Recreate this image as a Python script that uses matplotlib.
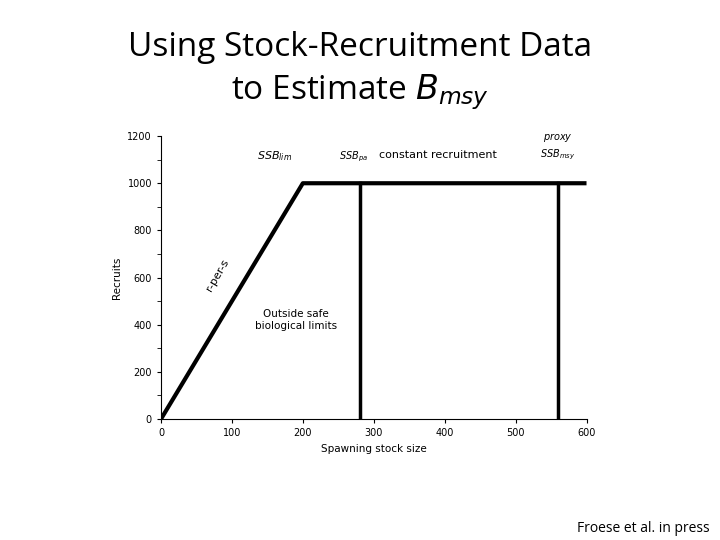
import matplotlib
matplotlib.use("Agg")
import matplotlib.pyplot as plt
from matplotlib.ticker import MultipleLocator

curve_x = [0, 200, 600]
curve_y = [0, 1000, 1000]
ref_x = [280, 560]
ref_top = 1000
xticks = [0, 100, 200, 300, 400, 500, 600]
yticks = [0, 200, 400, 600, 800, 1000, 1200]

fig = plt.figure(figsize=(7.2, 5.4), dpi=100)
fig.text(0.5, 0.912, "Using Stock-Recruitment Data", ha="center", va="center", fontsize=24, family="Open Sans")
fig.text(0.5, 0.83, "to Estimate $B_{msy}$", ha="center", va="center", fontsize=24, family="Open Sans")
ax = fig.add_axes([0.2236, 0.224, 0.591, 0.524])
ax.plot(curve_x, curve_y, color="black", lw=3, solid_capstyle="butt")
for x in ref_x:
    ax.plot([x, x], [0, ref_top], color="black", lw=2.5)
ax.set_xlim(0, 600)
ax.set_ylim(0, 1200)
ax.set_xticks(xticks)
ax.set_yticks(yticks)
ax.yaxis.set_minor_locator(MultipleLocator(100))
ax.tick_params(labelsize=7, direction="out", length=3)
ax.tick_params(which="minor", length=3)
for s in ["top", "right"]:
    ax.spines[s].set_visible(False)
ax.set_xlabel("Spawning stock size", fontsize=7.5)
ax.set_ylabel("Recruits", fontsize=7.5)
ax.text(160, 1100, "$SSB_{lim}$", fontsize=8, ha="center")
ax.text(272, 1100, "$SSB_{pa}$", fontsize=7, ha="center")
ax.text(390, 1105, "constant recruitment", fontsize=8, ha="center")
ax.text(560, 1110, "$\\it{proxy}$\n$SSB_{msy}$", fontsize=7, ha="center", linespacing=1.4)
ax.text(80, 610, "r-per-s", fontsize=8, rotation=60, ha="center", va="center")
ax.text(190, 420, "Outside safe\nbiological limits", fontsize=7.5, ha="center", va="center")
fig.text(0.985, 0.015, "Froese et al. in press", ha="right", fontsize=10, family="Open Sans")
fig.savefig("out.png")
